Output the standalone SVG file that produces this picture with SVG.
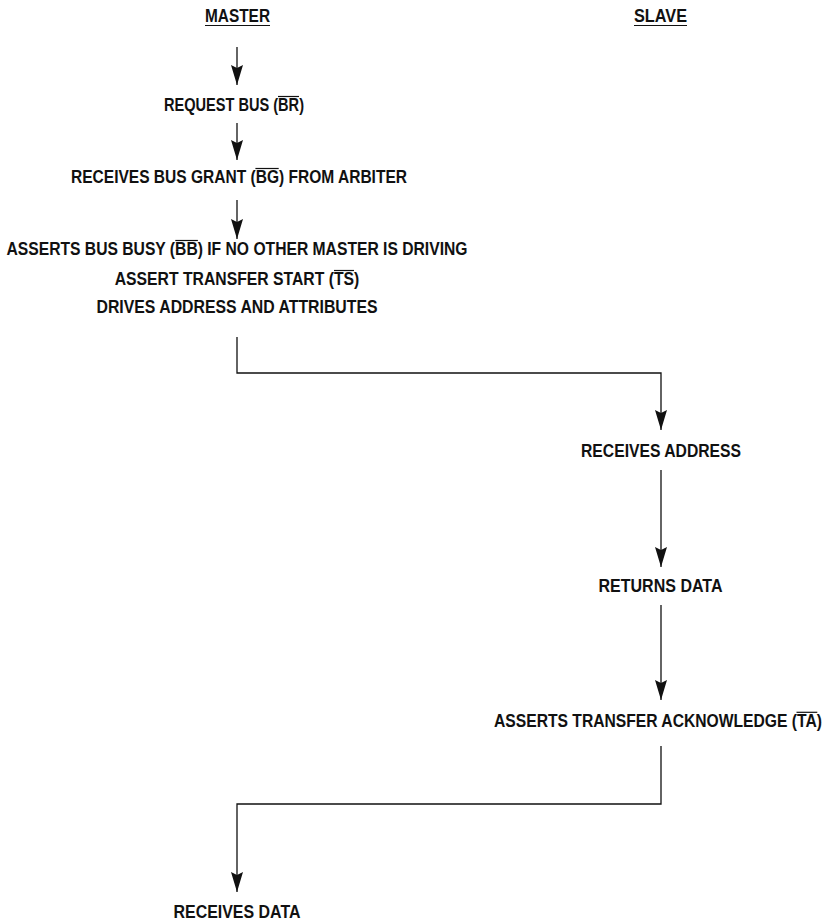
<svg xmlns="http://www.w3.org/2000/svg" width="828" height="922" viewBox="0 0 828 922">
<style>
text{font-family:"Liberation Sans Narrow","Liberation Sans",Arial,sans-serif;font-weight:bold;font-size:18px;fill:#111;}
.c{fill:none;stroke:#111;stroke-width:1.3;}
.ol{stroke:#111;stroke-width:1.2;}
</style>
<defs>
<marker id="ah" viewBox="0 0 20 12" refX="20" refY="6" markerWidth="20" markerHeight="12" markerUnits="userSpaceOnUse" orient="auto">
<path d="M0,0 L20,6 L0,12 L3,6 Z" fill="#111"/>
</marker>
</defs>
<rect width="828" height="922" fill="#fff"/>
<g id="hdr-master">
<text x="205" y="22" textLength="65" lengthAdjust="spacingAndGlyphs">MASTER</text>
<line class="ol" x1="205" y1="25.5" x2="270" y2="25.5"/>
</g>
<g id="hdr-slave">
<text x="634" y="22" textLength="53" lengthAdjust="spacingAndGlyphs">SLAVE</text>
<line class="ol" x1="634" y1="25.5" x2="687" y2="25.5"/>
</g>
<g id="n-request">
<text x="164" y="111" textLength="140" lengthAdjust="spacingAndGlyphs">REQUEST BUS (BR)</text>
<line class="ol" x1="278" y1="96.5" x2="299" y2="96.5"/>
</g>
<g id="n-grant">
<text x="71" y="183" textLength="336" lengthAdjust="spacingAndGlyphs">RECEIVES BUS GRANT (BG) FROM ARBITER</text>
<line class="ol" x1="255.4" y1="168.5" x2="278.7" y2="168.5"/>
</g>
<g id="n-assert">
<text x="6.5" y="255" textLength="461" lengthAdjust="spacingAndGlyphs">ASSERTS BUS BUSY (BB) IF NO OTHER MASTER IS DRIVING</text>
<line class="ol" x1="175.3" y1="240.5" x2="197.9" y2="240.5"/>
<text x="114.75" y="285" textLength="244.5" lengthAdjust="spacingAndGlyphs">ASSERT TRANSFER START (TS)</text>
<line class="ol" x1="334" y1="270.5" x2="354" y2="270.5"/>
<text x="96.5" y="313" textLength="281" lengthAdjust="spacingAndGlyphs">DRIVES ADDRESS AND ATTRIBUTES</text>
</g>
<g id="n-recaddr">
<text x="581" y="457" textLength="160" lengthAdjust="spacingAndGlyphs">RECEIVES ADDRESS</text>
</g>
<g id="n-retdata">
<text x="598.5" y="592" textLength="124" lengthAdjust="spacingAndGlyphs">RETURNS DATA</text>
</g>
<g id="n-ack">
<text x="494" y="727" textLength="328" lengthAdjust="spacingAndGlyphs">ASSERTS TRANSFER ACKNOWLEDGE (TA)</text>
<line class="ol" x1="796.5" y1="712.3" x2="817.3" y2="712.3"/>
</g>
<g id="n-recdata">
<text x="173.5" y="918" textLength="127" lengthAdjust="spacingAndGlyphs">RECEIVES DATA</text>
</g>
<g id="connectors">
<path class="c" d="M237,47 V85" marker-end="url(#ah)"/>
<path class="c" d="M237,123 V160" marker-end="url(#ah)"/>
<path class="c" d="M237,200 V239" marker-end="url(#ah)"/>
<path class="c" d="M237,337 V373 H661 V430" marker-end="url(#ah)"/>
<path class="c" d="M661,470 V567" marker-end="url(#ah)"/>
<path class="c" d="M661,605 V700" marker-end="url(#ah)"/>
<path class="c" d="M661,746 V804 H237 V892" marker-end="url(#ah)"/>
</g>
</svg>
